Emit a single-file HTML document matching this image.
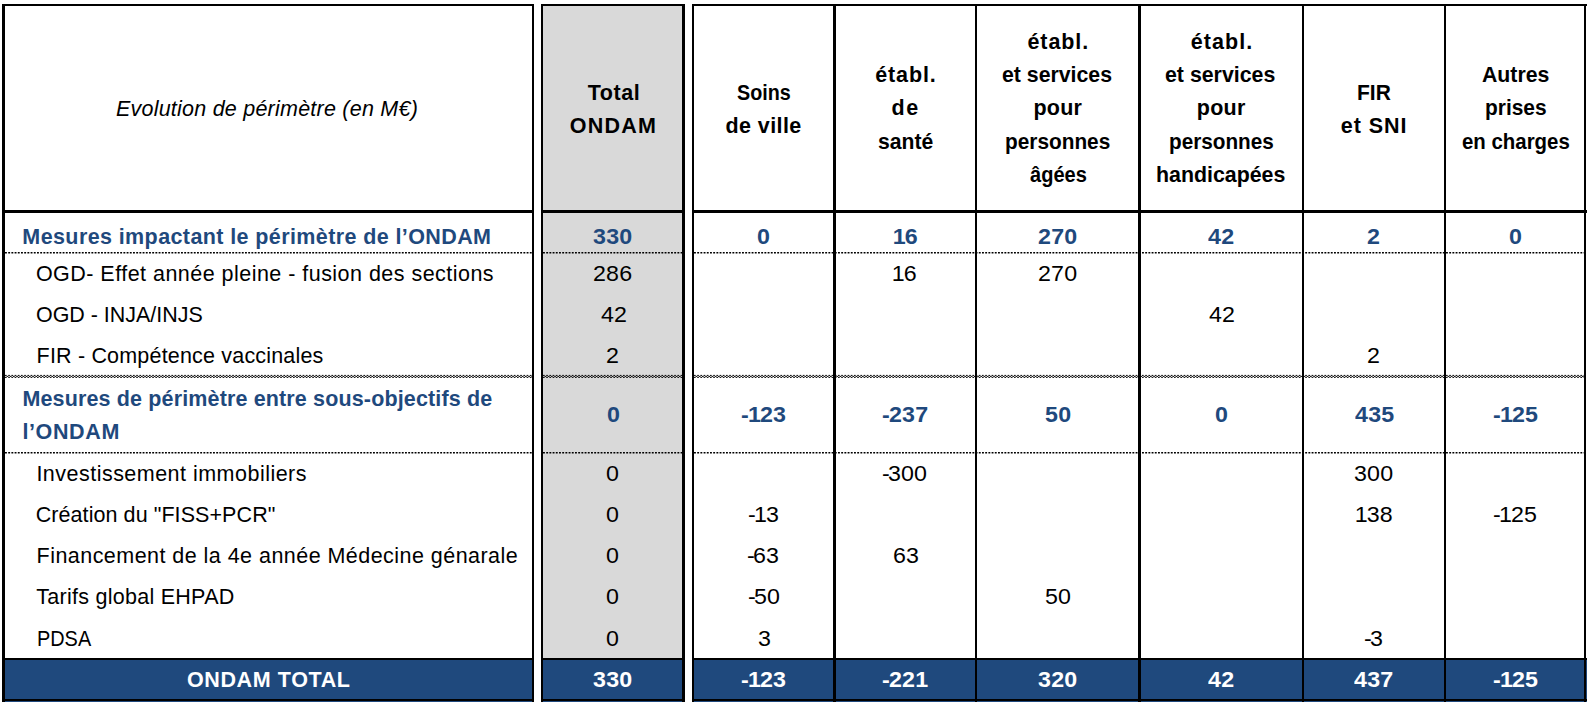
<!DOCTYPE html>
<html lang="fr">
<head>
<meta charset="utf-8">
<title>Evolution de périmètre – ONDAM</title>
<style>
html,body{margin:0;padding:0;background:#fff}
body{width:1588px;height:702px;position:relative;overflow:hidden;font-family:"Liberation Sans",sans-serif}
.k{position:absolute;background:#000}
.g{position:absolute;background:#d9d9d9}
.bl{position:absolute;background:#1f497d}
.s{position:absolute;display:block}
.t{position:absolute;white-space:nowrap;font-size:21.5px;line-height:24px;color:#000}
.i{font-style:italic}
.h,.b,.w{font-weight:700}
.b{color:#1f497d}
.w{color:#fff}
.t{transform-origin:0 50%}
.one{margin:0 -1px 0 -1.2px}
.m+.one{margin-left:0}
</style>
</head>
<body>
<!-- fills -->
<div class="g" style="left:543px;top:6px;width:139px;height:652px"></div>
<div class="bl" style="left:5px;top:660px;width:527px;height:42px"></div>
<div class="bl" style="left:543px;top:660px;width:139px;height:42px"></div>
<div class="bl" style="left:694px;top:660px;width:893px;height:42px"></div>

<!-- left table frame -->
<div class="k" style="left:2px;top:4px;width:3px;height:698px"></div>
<div class="k" style="left:532px;top:4px;width:2px;height:698px"></div>
<div class="k" style="left:2px;top:4px;width:532px;height:2px"></div>
<div class="k" style="left:2px;top:210px;width:532px;height:3px"></div>
<div class="k" style="left:2px;top:658px;width:532px;height:2px"></div>
<div class="k" style="left:2px;top:699px;width:532px;height:2px"></div>

<!-- total column frame -->
<div class="k" style="left:541px;top:4px;width:2px;height:698px"></div>
<div class="k" style="left:682px;top:4px;width:3px;height:698px"></div>
<div class="k" style="left:541px;top:4px;width:144px;height:2px"></div>
<div class="k" style="left:541px;top:210px;width:144px;height:3px"></div>
<div class="k" style="left:541px;top:658px;width:144px;height:2px"></div>
<div class="k" style="left:541px;top:699px;width:144px;height:2px"></div>

<!-- right table frame -->
<div class="k" style="left:692px;top:4px;width:2px;height:698px"></div>
<div class="k" style="left:1584px;top:4px;width:2px;height:698px"></div>
<div class="k" style="left:692px;top:4px;width:895px;height:2px"></div>
<div class="k" style="left:692px;top:210px;width:895px;height:3px"></div>
<div class="k" style="left:692px;top:658px;width:895px;height:2px"></div>
<div class="k" style="left:692px;top:699px;width:895px;height:2px"></div>

<!-- header column separators -->
<div class="k" style="left:833px;top:4px;width:3px;height:208px"></div>
<div class="k" style="left:975px;top:4px;width:2px;height:208px"></div>
<div class="k" style="left:1138px;top:4px;width:3px;height:208px"></div>
<div class="k" style="left:1302px;top:4px;width:2px;height:208px"></div>
<div class="k" style="left:1444px;top:4px;width:2px;height:208px"></div>
<!-- footer column separators -->
<div class="k" style="left:833px;top:658px;width:3px;height:44px"></div>
<div class="k" style="left:975px;top:658px;width:2px;height:44px"></div>
<div class="k" style="left:1138px;top:658px;width:3px;height:44px"></div>
<div class="k" style="left:1302px;top:658px;width:2px;height:44px"></div>
<div class="k" style="left:1444px;top:658px;width:2px;height:44px"></div>
<div class="k" style="left:833px;top:213px;width:3px;height:445px"></div>
<div class="k" style="left:975px;top:213px;width:2px;height:445px"></div>
<div class="k" style="left:1138px;top:213px;width:3px;height:445px"></div>
<div class="k" style="left:1302px;top:213px;width:2px;height:445px"></div>
<div class="k" style="left:1444px;top:213px;width:2px;height:445px"></div>

<!-- dotted row separators -->
<svg class="s" style="left:5px;top:250px" width="527" height="5" viewBox="0 0 527 5"><line x1="0" y1="2.8" x2="527" y2="2.8" stroke="#000" stroke-width="1.6" stroke-dasharray="1.9 1.3"/></svg>
<svg class="s" style="left:543px;top:250px" width="139" height="5" viewBox="0 0 139 5"><line x1="0" y1="2.8" x2="139" y2="2.8" stroke="#000" stroke-width="1.6" stroke-dasharray="1.9 1.3"/></svg>
<svg class="s" style="left:694px;top:250px" width="890" height="5" viewBox="0 0 890 5"><line x1="0" y1="2.8" x2="890" y2="2.8" stroke="#000" stroke-width="1.6" stroke-dasharray="1.9 1.3"/></svg>
<svg class="s" style="left:5px;top:450px" width="527" height="5" viewBox="0 0 527 5"><line x1="0" y1="2.8" x2="527" y2="2.8" stroke="#000" stroke-width="1.6" stroke-dasharray="1.9 1.3"/></svg>
<svg class="s" style="left:543px;top:450px" width="139" height="5" viewBox="0 0 139 5"><line x1="0" y1="2.8" x2="139" y2="2.8" stroke="#000" stroke-width="1.6" stroke-dasharray="1.9 1.3"/></svg>
<svg class="s" style="left:694px;top:450px" width="890" height="5" viewBox="0 0 890 5"><line x1="0" y1="2.8" x2="890" y2="2.8" stroke="#000" stroke-width="1.6" stroke-dasharray="1.9 1.3"/></svg>
<svg class="s" style="left:5px;top:374px" width="527" height="5" viewBox="0 0 527 5"><g stroke="#000" stroke-width="1" stroke-dasharray="1.7 1.5"><line x1="0" y1="1.4" x2="527" y2="1.4"/><line x1="0" y1="2.4" x2="527" y2="2.4" stroke-dashoffset="1.6"/><line x1="0" y1="3.4" x2="527" y2="3.4"/></g></svg>
<svg class="s" style="left:543px;top:374px" width="139" height="5" viewBox="0 0 139 5"><g stroke="#000" stroke-width="1" stroke-dasharray="1.7 1.5"><line x1="0" y1="1.4" x2="139" y2="1.4"/><line x1="0" y1="2.4" x2="139" y2="2.4" stroke-dashoffset="1.6"/><line x1="0" y1="3.4" x2="139" y2="3.4"/></g></svg>
<svg class="s" style="left:694px;top:374px" width="890" height="5" viewBox="0 0 890 5"><g stroke="#000" stroke-width="1" stroke-dasharray="1.7 1.5"><line x1="0" y1="1.4" x2="890" y2="1.4"/><line x1="0" y1="2.4" x2="890" y2="2.4" stroke-dashoffset="1.6"/><line x1="0" y1="3.4" x2="890" y2="3.4"/></g></svg>

<!-- text -->
<div class="t i" style="left:115.93px;top:97px;letter-spacing:0.232px">Evolution de périmètre (en M€)</div>
<div class="t h" style="left:587.75px;top:81px;letter-spacing:0.543px">Total</div>
<div class="t h" style="left:569.82px;top:114px;letter-spacing:1.200px">ONDAM</div>
<div class="t h" style="left:736.96px;top:81px;transform:scaleX(0.9181)">Soins</div>
<div class="t h" style="left:725.58px;top:114px;letter-spacing:0.390px">de ville</div>
<div class="t h" style="left:875.21px;top:63px;letter-spacing:0.887px">établ.</div>
<div class="t h" style="left:891.60px;top:96px;letter-spacing:1.436px">de</div>
<div class="t h" style="left:878.21px;top:130px;transform:scaleX(0.9841)">santé</div>
<div class="t h" style="left:1027.48px;top:30px;letter-spacing:0.897px">établ.</div>
<div class="t h" style="left:1002.48px;top:63px;transform:scaleX(0.9897)">et services</div>
<div class="t h" style="left:1033.52px;top:96px;letter-spacing:0.203px">pour</div>
<div class="t h" style="left:1005.06px;top:130px;transform:scaleX(0.9680)">personnes</div>
<div class="t h" style="left:1029.91px;top:163px;transform:scaleX(0.9322)">âgées</div>
<div class="t h" style="left:1190.66px;top:30px;letter-spacing:1.072px">établ.</div>
<div class="t h" style="left:1165.20px;top:63px;transform:scaleX(0.9920)">et services</div>
<div class="t h" style="left:1196.84px;top:96px;letter-spacing:0.233px">pour</div>
<div class="t h" style="left:1168.91px;top:130px;transform:scaleX(0.9634)">personnes</div>
<div class="t h" style="left:1155.93px;top:163px;transform:scaleX(0.9931)">handicapées</div>
<div class="t h" style="left:1357.19px;top:81px;transform:scaleX(0.9767)">FIR</div>
<div class="t h" style="left:1340.83px;top:114px;letter-spacing:0.943px">et SNI</div>
<div class="t h" style="left:1482.46px;top:63px;transform:scaleX(0.9887)">Autres</div>
<div class="t h" style="left:1485.02px;top:96px;transform:scaleX(0.9728)">prises</div>
<div class="t h" style="left:1461.51px;top:130px;transform:scaleX(0.9489)">en charges</div>
<div class="t b" style="left:22.35px;top:225px;letter-spacing:0.396px">Mesures impactant le périmètre de l’ONDAM</div>
<div class="t r" style="left:35.93px;top:262px;letter-spacing:0.469px">OGD- Effet année pleine - fusion des sections</div>
<div class="t r" style="left:36.21px;top:303px;transform:scaleX(0.9969)">OGD - INJA/INJS</div>
<div class="t r" style="left:36.57px;top:344px;letter-spacing:0.184px">FIR - Compétence vaccinales</div>
<div class="t b" style="left:22.47px;top:387px;letter-spacing:0.142px">Mesures de périmètre entre sous-objectifs de</div>
<div class="t b" style="left:22.38px;top:420px;letter-spacing:0.631px">l’ONDAM</div>
<div class="t r" style="left:36.40px;top:462px;letter-spacing:0.481px">Investissement immobiliers</div>
<div class="t r" style="left:35.73px;top:503px;letter-spacing:0.072px">Création du "FISS+PCR"</div>
<div class="t r" style="left:36.58px;top:544px;letter-spacing:0.459px">Financement de la 4e année Médecine génarale</div>
<div class="t r" style="left:36.23px;top:585px;letter-spacing:0.271px">Tarifs global EHPAD</div>
<div class="t r" style="left:36.82px;top:627px;transform:scaleX(0.9247)">PDSA</div>
<div class="t w" style="left:186.98px;top:668px;letter-spacing:0.609px">ONDAM TOTAL</div>
<div class="t b n" style="left:592.95px;top:225px;letter-spacing:0.205px;transform:scaleX(1.0800)">330</div>
<div class="t b n" style="left:757.05px;top:225px;letter-spacing:0.205px;transform:scaleX(1.0800)">0</div>
<div class="t b n" style="left:893.71px;top:225px;letter-spacing:0.205px;transform:scaleX(1.0800)"><span class="one">1</span>6</div>
<div class="t b n" style="left:1038.14px;top:225px;letter-spacing:0.205px;transform:scaleX(1.0800)">270</div>
<div class="t b n" style="left:1208.39px;top:225px;letter-spacing:0.205px;transform:scaleX(1.0800)">42</div>
<div class="t b n" style="left:1367.40px;top:225px;letter-spacing:0.205px;transform:scaleX(1.0800)">2</div>
<div class="t b n" style="left:1508.85px;top:225px;letter-spacing:0.205px;transform:scaleX(1.0800)">0</div>
<div class="t r n" style="left:593.30px;top:262px;letter-spacing:0.140px;transform:scaleX(1.0800)">286</div>
<div class="t r n" style="left:893.30px;top:262px;letter-spacing:0.140px;transform:scaleX(1.0800)"><span class="one">1</span>6</div>
<div class="t r n" style="left:1038.00px;top:262px;letter-spacing:0.140px;transform:scaleX(1.0800)">270</div>
<div class="t r n" style="left:600.56px;top:303px;letter-spacing:0.140px;transform:scaleX(1.0800)">42</div>
<div class="t r n" style="left:1208.75px;top:303px;letter-spacing:0.140px;transform:scaleX(1.0800)">42</div>
<div class="t r n" style="left:606.26px;top:344px;letter-spacing:0.140px;transform:scaleX(1.0800)">2</div>
<div class="t r n" style="left:1367.45px;top:344px;letter-spacing:0.140px;transform:scaleX(1.0800)">2</div>
<div class="t b n" style="left:606.65px;top:403px;letter-spacing:0.205px;transform:scaleX(1.0800)">0</div>
<div class="t b n" style="left:741.26px;top:403px;letter-spacing:0.205px;transform:scaleX(1.0800)"><span class="m" style="letter-spacing:-0.80px">-</span><span class="one">1</span>23</div>
<div class="t b n" style="left:882.16px;top:403px;letter-spacing:0.205px;transform:scaleX(1.0800)"><span class="m" style="letter-spacing:-0.80px">-</span>237</div>
<div class="t b n" style="left:1045.06px;top:403px;letter-spacing:0.205px;transform:scaleX(1.0800)">50</div>
<div class="t b n" style="left:1214.85px;top:403px;letter-spacing:0.205px;transform:scaleX(1.0800)">0</div>
<div class="t b n" style="left:1354.63px;top:403px;letter-spacing:0.205px;transform:scaleX(1.0800)">435</div>
<div class="t b n" style="left:1492.56px;top:403px;letter-spacing:0.205px;transform:scaleX(1.0800)"><span class="m" style="letter-spacing:-0.80px">-</span><span class="one">1</span>25</div>
<div class="t r n" style="left:606.00px;top:462px;letter-spacing:0.140px;transform:scaleX(1.0800)">0</div>
<div class="t r n" style="left:882.44px;top:462px;letter-spacing:0.140px;transform:scaleX(1.0800)"><span class="m" style="letter-spacing:-1.70px">-</span>300</div>
<div class="t r n" style="left:1354.12px;top:462px;letter-spacing:0.140px;transform:scaleX(1.0800)">300</div>
<div class="t r n" style="left:606.00px;top:503px;letter-spacing:0.140px;transform:scaleX(1.0800)">0</div>
<div class="t r n" style="left:748.32px;top:503px;letter-spacing:0.140px;transform:scaleX(1.0800)"><span class="m" style="letter-spacing:-1.70px">-</span><span class="one">1</span>3</div>
<div class="t r n" style="left:1356.34px;top:503px;letter-spacing:0.140px;transform:scaleX(1.0800)"><span class="one">1</span>38</div>
<div class="t r n" style="left:1492.64px;top:503px;letter-spacing:0.140px;transform:scaleX(1.0800)"><span class="m" style="letter-spacing:-1.70px">-</span><span class="one">1</span>25</div>
<div class="t r n" style="left:606.00px;top:544px;letter-spacing:0.140px;transform:scaleX(1.0800)">0</div>
<div class="t r n" style="left:747.39px;top:544px;letter-spacing:0.140px;transform:scaleX(1.0800)"><span class="m" style="letter-spacing:-1.70px">-</span>63</div>
<div class="t r n" style="left:892.68px;top:544px;letter-spacing:0.140px;transform:scaleX(1.0800)">63</div>
<div class="t r n" style="left:606.00px;top:585px;letter-spacing:0.140px;transform:scaleX(1.0800)">0</div>
<div class="t r n" style="left:748.08px;top:585px;letter-spacing:0.140px;transform:scaleX(1.0800)"><span class="m" style="letter-spacing:-1.70px">-</span>50</div>
<div class="t r n" style="left:1045.33px;top:585px;letter-spacing:0.140px;transform:scaleX(1.0800)">50</div>
<div class="t r n" style="left:606.00px;top:627px;letter-spacing:0.140px;transform:scaleX(1.0800)">0</div>
<div class="t r n" style="left:757.52px;top:627px;letter-spacing:0.140px;transform:scaleX(1.0800)">3</div>
<div class="t r n" style="left:1364.33px;top:627px;letter-spacing:0.140px;transform:scaleX(1.0800)"><span class="m" style="letter-spacing:-1.70px">-</span>3</div>
<div class="t w n" style="left:592.95px;top:668px;letter-spacing:0.205px;transform:scaleX(1.0800)">330</div>
<div class="t w n" style="left:741.46px;top:668px;letter-spacing:0.205px;transform:scaleX(1.0800)"><span class="m" style="letter-spacing:-0.80px">-</span><span class="one">1</span>23</div>
<div class="t w n" style="left:881.65px;top:668px;letter-spacing:0.205px;transform:scaleX(1.0800)"><span class="m" style="letter-spacing:-0.80px">-</span>22<span class="one">1</span></div>
<div class="t w n" style="left:1038.15px;top:668px;letter-spacing:0.205px;transform:scaleX(1.0800)">320</div>
<div class="t w n" style="left:1208.37px;top:668px;letter-spacing:0.205px;transform:scaleX(1.0800)">42</div>
<div class="t w n" style="left:1354.47px;top:668px;letter-spacing:0.205px;transform:scaleX(1.0800)">437</div>
<div class="t w n" style="left:1492.76px;top:668px;letter-spacing:0.205px;transform:scaleX(1.0800)"><span class="m" style="letter-spacing:-0.80px">-</span><span class="one">1</span>25</div>
</body>
</html>
